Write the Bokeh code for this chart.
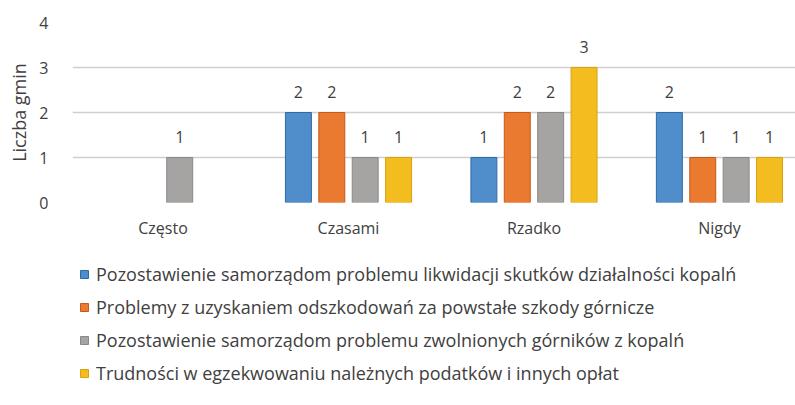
from bokeh.plotting import figure
from bokeh.models import ColumnDataSource, Range1d, Legend, LegendItem, FixedTicker
from bokeh.layouts import column
from bokeh.transform import dodge
from bokeh.embed import file_html
from bokeh.resources import INLINE
from bokeh.core.properties import value

categories = ["Często", "Czasami", "Rzadko", "Nigdy"]
series_names = [
    "Pozostawienie samorządom problemu likwidacji skutków działalności kopalń",
    "Problemy z uzyskaniem odszkodowań za powstałe szkody górnicze",
    "Pozostawienie samorządom problemu zwolnionych górników z kopalń",
    "Trudności w egzekwowaniu należnych podatków i innych opłat",
]
s1 = [0, 2, 1, 2]
s2 = [0, 2, 2, 1]
s3 = [1, 1, 2, 1]
s4 = [0, 1, 3, 1]
y_ticks = [0, 1, 2, 3, 4]
y_label = "Liczba gmin"

series = [s1, s2, s3, s4]
colors = ["#4F8DCB", "#EA7A2F", "#A6A3A3", "#F4BD1F"]
borders = ["#2F6AA6", "#C55A1A", "#8A8787", "#D9A010"]
offsets = [-0.27, -0.09, 0.09, 0.27]
FONT = "Open Sans"
TXT = "#404040"

xs = list(range(len(categories)))
data = {"x": xs}
for i, s in enumerate(series):
    data[f"s{i}"] = s
    data[f"l{i}"] = [str(v) if v > 0 else "" for v in s]
    data[f"a{i}"] = [1.0 if v > 0 else 0.0 for v in s]
src = ColumnDataSource(data)

p = figure(frame_width=723, frame_height=180, output_backend="svg", toolbar_location=None,
           x_range=Range1d(-0.488, 3.41), y_range=Range1d(0, 4))
p.min_border_left = 72
p.min_border_right = 0
p.min_border_top = 22
p.min_border_bottom = 50
p.outline_line_color = None

for i, s in enumerate(series):
    p.vbar(x=dodge("x", offsets[i]), top=f"s{i}", width=0.14, source=src,
           fill_color=colors[i], line_color=borders[i], line_alpha=f"a{i}",
           line_width=1)
    p.text(x=dodge("x", offsets[i]), y=f"s{i}", text=f"l{i}", source=src,
           text_align="center", text_baseline="bottom", y_offset=-15,
           text_font=value(FONT), text_font_size="16px", text_color=TXT)

p.xaxis.ticker = FixedTicker(ticks=xs)
p.xaxis.major_label_overrides = {i: c for i, c in enumerate(categories)}
p.yaxis.ticker = FixedTicker(ticks=y_ticks)
p.yaxis.axis_label = y_label
for ax in (p.xaxis[0], p.yaxis[0]):
    ax.axis_line_color = None
    ax.major_tick_line_color = None
    ax.minor_tick_line_color = None
    ax.major_label_text_font = FONT
    ax.major_label_text_font_size = "16px"
    ax.major_label_text_color = TXT
p.xaxis.major_label_standoff = 8
p.yaxis.major_label_standoff = 18
p.yaxis.axis_label_text_font = FONT
p.yaxis.axis_label_text_font_size = "18px"
p.yaxis.axis_label_text_font_style = "normal"
p.yaxis.axis_label_text_color = TXT
p.yaxis.axis_label_standoff = 5

p.xgrid.grid_line_color = None
p.ygrid.grid_line_color = "#CFCFCF"
p.ygrid.grid_line_width = 1.5
p.ygrid.ticker = FixedTicker(ticks=y_ticks)

# legend panel below the chart (frames of the column are aligned at x = 72)
p2 = figure(width=795, height=153, output_backend="svg", toolbar_location=None,
            x_axis_type=None, y_axis_type=None, x_range=Range1d(0, 1), y_range=Range1d(0, 1))
p2.min_border_left = 72
p2.min_border_top = 3
p2.min_border_right = 0
p2.min_border_bottom = 0
p2.outline_line_color = None
p2.xgrid.grid_line_color = None
p2.ygrid.grid_line_color = None
items = []
for i in range(len(series)):
    r = p2.vbar(x=dodge("x", offsets[i]), top=f"s{i}", width=0.14, source=src,
                fill_color=colors[i], line_color=borders[i], visible=False)
    items.append(LegendItem(label=series_names[i], renderers=[r]))
legend = Legend(items=items, location="top_left", orientation="vertical",
                glyph_width=10, glyph_height=10, label_standoff=7,
                label_text_font=FONT, label_text_font_size="18px",
                label_text_color=TXT, label_height=20, spacing=9,
                padding=5, margin=7, border_line_color=None,
                background_fill_alpha=0, click_policy="none")
p2.add_layout(legend, "center")

layout = column(p, p2, spacing=0)
open("out.html", "w").write(file_html(layout, INLINE))
